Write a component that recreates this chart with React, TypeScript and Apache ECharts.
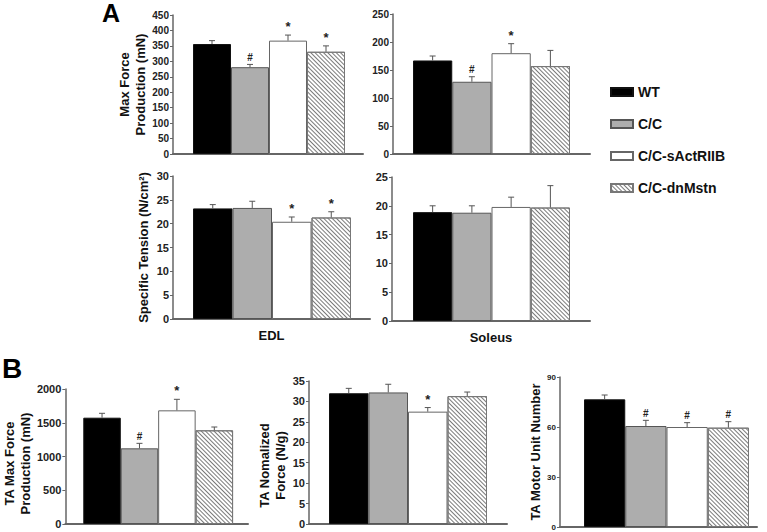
import React, { useEffect, useRef } from "react";
import * as echarts from "echarts";

// ---------- DATA ----------
const groups = ["WT", "C/C", "C/C-sActRIIB", "C/C-dnMstn"];

const edlForce = [356, 281, 367, 331];
const edlForceErr = [11, 9, 18, 19];
const edlForceMarks = ["", "#", "*", "*"];

const soleusForce = [167, 129, 180, 157];
const soleusForceErr = [8, 9, 17, 28];
const soleusForceMarks = ["", "#", "*", ""];

const edlTension = [23.2, 23.3, 20.4, 21.3];
const edlTensionErr = [0.8, 1.4, 1.0, 1.2];
const edlTensionMarks = ["", "", "*", "*"];

const soleusTension = [18.9, 18.8, 19.8, 19.7];
const soleusTensionErr = [1.1, 1.2, 1.7, 3.8];
const soleusTensionMarks = ["", "", "", ""];

const taForce = [1575, 1121, 1684, 1388];
const taForceErr = [65, 74, 163, 49];
const taForceMarks = ["", "#", "*", ""];

const taNorm = [32.0, 32.2, 27.5, 31.3];
const taNormErr = [1.2, 2.0, 1.0, 1.0];
const taNormMarks = ["", "", "*", ""];

const taMU = [76.6, 60.6, 60.0, 59.6];
const taMUErr = [2.6, 3.4, 2.6, 3.6];
const taMUMarks = ["", "#", "#", "#"];

// ---------- STYLE / LAYOUT ----------
const FONT = '"Liberation Sans", Arial, Helvetica, sans-serif';

const groupStyles: any[] = [
  { color: "#000000", borderColor: "#111111", borderWidth: 1 },
  { color: "#adadad", borderColor: "#555555", borderWidth: 1 },
  { color: "#ffffff", borderColor: "#666666", borderWidth: 1 },
  {
    color: "#ffffff",
    borderColor: "#777777",
    borderWidth: 1,
    decal: {
      symbol: "rect",
      symbolSize: 1,
      color: "#7a7a7a",
      backgroundColor: "#ffffff",
      dashArrayX: [1, 0],
      dashArrayY: [1, 2],
      rotation: Math.PI / 4,
    },
  },
];

type Panel = {
  values: number[];
  errors: number[];
  marks: string[];
  max: number;
  interval: number;
  left: number;
  top: number;
  width: number;
  height: number;
  padL: number;
  padR: number;
  labelSize: number;
  yName?: string;
  nameGap?: number;
  namePadding?: number[];
  xName?: string;
};

const panels: Panel[] = [
  { values: edlForce, errors: edlForceErr, marks: edlForceMarks, max: 450, interval: 50,
    left: 173, top: 15, width: 190, height: 139, padL: 20, padR: 18, labelSize: 10,
    yName: "Max Force\nProduction (mN)", nameGap: 20 },
  { values: soleusForce, errors: soleusForceErr, marks: soleusForceMarks, max: 250, interval: 50,
    left: 393, top: 14, width: 197, height: 140, padL: 20, padR: 20, labelSize: 10 },
  { values: edlTension, errors: edlTensionErr, marks: edlTensionMarks, max: 30, interval: 5,
    left: 173, top: 176, width: 197, height: 143, padL: 20, padR: 19, labelSize: 11,
    yName: "Specific Tension (N/cm²)", nameGap: 22, xName: "EDL" },
  { values: soleusTension, errors: soleusTensionErr, marks: soleusTensionMarks, max: 25, interval: 5,
    left: 392, top: 177, width: 198, height: 144, padL: 21, padR: 20, labelSize: 11, xName: "Soleus" },
  { values: taForce, errors: taForceErr, marks: taForceMarks, max: 2000, interval: 500,
    left: 65, top: 389, width: 183, height: 135, padL: 18, padR: 15, labelSize: 11,
    yName: "TA Max Force\nProduction (mN)", nameGap: 27, namePadding: [0, 14, 0, 0] },
  { values: taNorm, errors: taNormErr, marks: taNormMarks, max: 35, interval: 5,
    left: 309, top: 381, width: 198, height: 143, padL: 20, padR: 20, labelSize: 11,
    yName: "TA Nomalized\nForce (N/g)", nameGap: 21, namePadding: [0, 26, 0, 0] },
  { values: taMU, errors: taMUErr, marks: taMUMarks, max: 90, interval: 30,
    left: 560, top: 377, width: 197, height: 150, padL: 24, padR: 8, labelSize: 8,
    yName: "TA Motor Unit Number", nameGap: 15 },
];

function buildOption() {
  const grid: any[] = [];
  const xAxis: any[] = [];
  const yAxis: any[] = [];
  const series: any[] = [];

  panels.forEach((p, k) => {
    const barW = (p.width - p.padL - p.padR) / p.values.length;
    grid.push({ left: p.left, top: p.top, width: p.width, height: p.height, containLabel: false });
    xAxis.push({
      type: "value",
      gridIndex: k,
      min: -0.5 - p.padL / barW,
      max: p.values.length - 0.5 + p.padR / barW,
      axisLine: { show: true, onZero: false, lineStyle: { color: "#666666", width: 2 } },
      axisTick: { show: false },
      axisLabel: { show: false },
      splitLine: { show: false },
      name: p.xName || "",
      nameLocation: "middle",
      nameGap: 10,
      nameTextStyle: { fontFamily: FONT, fontWeight: "bold", fontSize: 13, color: "#111111", verticalAlign: "top" },
    });
    yAxis.push({
      type: "value",
      gridIndex: k,
      min: 0,
      max: p.max,
      interval: p.interval,
      axisLine: { show: true, onZero: false, lineStyle: { color: "#666666", width: 1.5 } },
      axisTick: { show: true, length: 3, lineStyle: { color: "#666666" } },
      axisLabel: {
        margin: 4,
        fontFamily: FONT,
        fontWeight: "bold",
        fontSize: p.labelSize,
        color: "#222222",
        formatter: (v: number) => String(v),
      },
      splitLine: { show: false },
      name: p.yName || "",
      nameLocation: "middle",
      nameRotate: 90,
      nameGap: p.nameGap || 20,
      nameTextStyle: {
        fontFamily: FONT,
        fontWeight: "bold",
        fontSize: 13,
        lineHeight: 16,
        color: "#111111",
        padding: p.namePadding || [0, 0, 0, 0],
      },
    });

    groups.forEach((g, gi) => {
      series.push({
        type: "bar",
        name: g,
        xAxisIndex: k,
        yAxisIndex: k,
        barWidth: barW,
        barGap: "-100%",
        silent: true,
        itemStyle: groupStyles[gi],
        data: [[gi, p.values[gi]]],
        z: 2,
      });
    });

    series.push({
      type: "custom",
      xAxisIndex: k,
      yAxisIndex: k,
      silent: true,
      z: 5,
      data: p.values.map((v, i) => [i, v, p.errors[i]]),
      renderItem: (params: any, api: any) => {
        const i = api.value(0);
        const v = api.value(1);
        const e = api.value(2);
        const base = api.coord([i, v]);
        const top = api.coord([i, v + e]);
        const cap = 3;
        const stroke = { stroke: "#555555", lineWidth: 1 };
        const children: any[] = [
          { type: "line", shape: { x1: base[0], y1: base[1], x2: top[0], y2: top[1] }, style: stroke },
          { type: "line", shape: { x1: top[0] - cap, y1: top[1], x2: top[0] + cap, y2: top[1] }, style: stroke },
        ];
        const mark = p.marks[params.dataIndex];
        if (mark) {
          children.push({
            type: "text",
            x: top[0],
            y: top[1] - 2,
            style: {
              text: mark,
              align: "center",
              verticalAlign: "bottom",
              font: `bold ${mark === "*" ? 13 : 10}px ${FONT}`,
              fill: "#222222",
            },
          });
        }
        return { type: "group", children };
      },
    });
  });

  return {
    animation: false,
    backgroundColor: "#ffffff",
    grid,
    xAxis,
    yAxis,
    series,
    legend: {
      data: groups,
      orient: "vertical",
      left: 605,
      top: 80,
      icon: "rect",
      itemWidth: 22,
      itemHeight: 8,
      itemGap: 18,
      selectedMode: false,
      textStyle: { fontFamily: FONT, fontWeight: "bold", fontSize: 14, color: "#111111" },
    },
    graphic: [
      { type: "text", left: 102, top: 0, style: { text: "A", font: `bold 25px ${FONT}`, fill: "#000000" } },
      { type: "text", left: 2, top: 354, style: { text: "B", font: `bold 28px ${FONT}`, fill: "#000000" } },
    ],
  };
}

export default function App() {
  const ref = useRef<HTMLDivElement>(null);
  useEffect(() => {
    document.body.style.margin = "0";
    if (!ref.current) return;
    const chart = echarts.init(ref.current, undefined, { renderer: "svg" });
    chart.setOption(buildOption() as any);
    return () => chart.dispose();
  }, []);
  return <div ref={ref} style={{ width: 767, height: 532 }} />;
}
